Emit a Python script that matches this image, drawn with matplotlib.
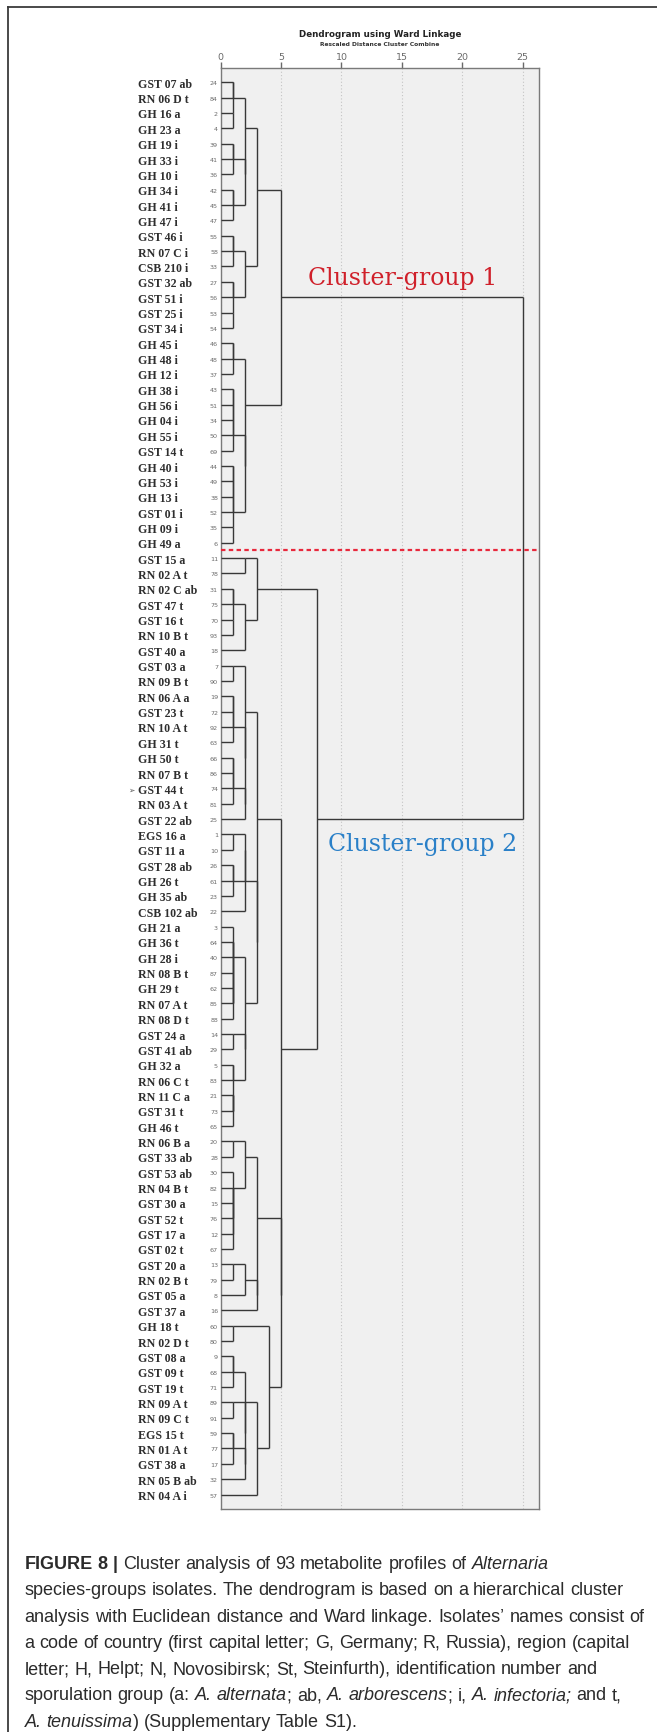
import math
import matplotlib
matplotlib.use('Agg')
import matplotlib.pyplot as plt
from matplotlib import transforms
from matplotlib.lines import Line2D

# ---------------- data ----------------
isolates = [
    "GST 07 ab", "RN 06 D t", "GH 16 a", "GH 23 a", "GH 19 i", "GH 33 i", "GH 10 i", "GH 34 i", "GH 41 i", "GH 47 i",
    "GST 46 i", "RN 07 C i", "CSB 210 i", "GST 32 ab", "GST 51 i", "GST 25 i", "GST 34 i", "GH 45 i", "GH 48 i", "GH 12 i",
    "GH 38 i", "GH 56 i", "GH 04 i", "GH 55 i", "GST 14 t", "GH 40 i", "GH 53 i", "GH 13 i", "GST 01 i", "GH 09 i", "GH 49 a",
    "GST 15 a", "RN 02 A t", "RN 02 C ab", "GST 47 t", "GST 16 t", "RN 10 B t", "GST 40 a", "GST 03 a", "RN 09 B t", "RN 06 A a",
    "GST 23 t", "RN 10 A t", "GH 31 t", "GH 50 t", "RN 07 B t", "GST 44 t", "RN 03 A t", "GST 22 ab", "EGS 16 a", "GST 11 a",
    "GST 28 ab", "GH 26 t", "GH 35 ab", "CSB 102 ab", "GH 21 a", "GH 36 t", "GH 28 i", "RN 08 B t", "GH 29 t", "RN 07 A t",
    "RN 08 D t", "GST 24 a", "GST 41 ab", "GH 32 a", "RN 06 C t", "RN 11 C a", "GST 31 t", "GH 46 t", "RN 06 B a", "GST 33 ab",
    "GST 53 ab", "RN 04 B t", "GST 30 a", "GST 52 t", "GST 17 a", "GST 02 t", "GST 20 a", "RN 02 B t", "GST 05 a", "GST 37 a",
    "GH 18 t", "RN 02 D t", "GST 08 a", "GST 09 t", "GST 19 t", "RN 09 A t", "RN 09 C t", "EGS 15 t", "RN 01 A t", "GST 38 a",
    "RN 05 B ab", "RN 04 A i",
]

case_ids = [
    24, 84, 2, 4, 39, 41, 36, 42, 45, 47, 55, 58, 33, 27, 56, 53, 54, 46, 48, 37,
    43, 51, 34, 50, 69, 44, 49, 38, 52, 35, 6,
    11, 78, 31, 75, 70, 93, 18, 7, 90, 19, 72, 92, 63, 66, 86, 74, 81, 25, 1, 10,
    26, 61, 23, 22, 3, 64, 40, 87, 62, 85, 88, 14, 29, 5, 83, 21, 73, 65, 20, 28,
    30, 82, 15, 76, 12, 67, 13, 79, 8, 16, 60, 80, 9, 68, 71, 89, 91, 59, 77, 17,
    32, 57,
]

marked_isolate = "GST 44 t"
n_cluster1 = 31

# Linkage tree: [rescaled distance, left, right]; leaves = 1-based position in isolates
c1_a = [1, [1, 1, 2], [1, 3, 4]]
c1_b = [1, [1, 5, 6], 7]
c1_c = [1, [1, 8, 9], 10]
c1_d = [1, [1, 11, 12], 13]
c1_e = [1, [1, 14, 15], [1, 16, 17]]
c1_f = [1, [1, 18, 19], 20]
c1_g = [1, [1, [1, [1, 21, 22], 23], 24], 25]
c1_h = [1, [1, [1, [1, 26, 27], 28], 29], [1, 30, 31]]
cluster1 = [5, [3, [2, c1_a, [2, c1_b, c1_c]], [2, c1_d, c1_e]],
            [2, c1_f, [2, c1_g, c1_h]]]

c2_p = [3, [2, 32, 33], [2, [1, [1, 34, 35], [1, 36, 37]], 38]]
c2_q1 = [2, [1, 39, 40], [2, [1, [1, [1, 41, 42], 43], 44],
                          [2, [1, [1, [1, 45, 46], 47], 48], 49]]]
c2_q2 = [2, [2, [1, 50, 51], [1, [1, 52, 53], 54]], 55]
c2_q3 = [2, [1, 56, [1, [1, [1, [1, [1, 57, 58], 59], 60], 61], 62]],
         [2, [1, 63, 64], [1, [1, 65, 66], [1, [1, 67, 68], 69]]]]
c2_q = [3, c2_q1, [3, c2_q2, c2_q3]]
c2_r = [3, [2, [1, 70, 71], [1, 72, [1, [1, [1, 73, 74], [1, 75, 76]], 77]]],
        [3, [2, [1, 78, 79], 80], 81]]
c2_s = [4, [1, 82, 83],
        [3, [2, [1, [1, 84, 85], 86], [2, [1, 87, 88], [2, [1, [1, 89, 90], 91], 92]]], 93]]
cluster2 = [8, c2_p, [5, c2_q, [5, c2_r, c2_s]]]

linkage_tree = [25, cluster1, cluster2]

x_ticks = [0, 5, 10, 15, 20, 25]
x_max = 26.33

title = "Dendrogram using Ward Linkage"
subtitle = "Rescaled Distance Cluster Combine"
group_labels = ["Cluster-group 1", "Cluster-group 2"]

caption_lines = [
    [("FIGURE 8 |", "b"), (" Cluster analysis of 93 metabolite profiles of ", "n"), ("Alternaria", "i")],
    [("species-groups isolates. The dendrogram is based on a hierarchical cluster", "n")],
    [("analysis with Euclidean distance and Ward linkage. Isolates\u2019 names consist of", "n")],
    [("a code of country (first capital letter; G, Germany; R, Russia), region (capital", "n")],
    [("letter; H, Helpt; N, Novosibirsk; St, Steinfurth), identification number and", "n")],
    [("sporulation group (a: ", "n"), ("A. alternata", "i"), ("; ab, ", "n"), ("A. arborescens", "i"),
     ("; i, ", "n"), ("A. infectoria;", "i"), (" and t,", "n")],
    [("A. tenuissima", "i"), (") (Supplementary Table S1).", "n")],
]

# ---------------- figure ----------------
W, H, DPI = 657, 1733, 100
fig = plt.figure(figsize=(W / DPI, H / DPI), dpi=DPI)
fig.patch.set_facecolor("white")


def fx(px):
    return px / W


def fy(py):
    return 1 - py / H


# outer frame (top + left)
fig.add_artist(Line2D([fx(8.3), 1.0], [fy(8.3), fy(8.3)], color="#3a3a3a", lw=1.3))
fig.add_artist(Line2D([fx(8.3), fx(8.3)], [fy(8.3), 0.0], color="#3a3a3a", lw=1.3))

ax_l, ax_r, ax_t, ax_b = 220.7, 538.7, 69.3, 1509.5
ax = fig.add_axes([fx(ax_l), fy(ax_b), (ax_r - ax_l) / W, (ax_b - ax_t) / H])
ax.set_facecolor("#f0f0f0")
n = len(isolates)
ax.set_xlim(0, x_max)
ax.set_ylim(n - 1 + 0.91, -0.91)
for s in ax.spines.values():
    s.set_color("#7a7a7a")
    s.set_linewidth(1.0)
ax.xaxis.tick_top()
ax.set_xticks(x_ticks)
ax.set_xticklabels([str(t) for t in x_ticks])
ax.tick_params(axis="x", direction="out", length=4, width=1.0, color="#6a6a6a",
               labelsize=6.8, labelcolor="#6a6a6a", pad=1.2, top=True, bottom=False,
               labeltop=True, labelbottom=False)
ax.set_yticks([])
ax.grid(axis="x", linestyle=(0, (1, 2)), color="#c4c4c4", lw=0.8)
ax.set_axisbelow(True)

LINE_KW = dict(color="#383838", lw=1.0, solid_capstyle="butt", zorder=3)


def draw(node):
    """returns (row, height) of the node, drawing its links"""
    if isinstance(node, int):
        return node - 1, 0.0
    h, left, right = node
    ya, ha = draw(left)
    yb, hb = draw(right)
    ax.plot([ha, h], [ya, ya], **LINE_KW)
    ax.plot([hb, h], [yb, yb], **LINE_KW)
    ax.plot([h, h], [ya, yb], **LINE_KW)
    return (ya + yb) // 2, h


draw(linkage_tree)

# separator between the two cluster groups
ax.plot([0, x_max], [n_cluster1 - 0.5, n_cluster1 - 0.5], color="#e8283c", lw=1.6,
        linestyle=(0, (2.0, 1.5)), zorder=4, clip_on=False)

# cluster-group labels
ax.text(7.23, 12.7, group_labels[0], color="#d0202a", fontsize=17, family="DejaVu Serif",
        ha="left", va="center", zorder=5)
ax.text(8.9, 49.6, group_labels[1], color="#2a80c8", fontsize=17, family="DejaVu Serif",
        ha="left", va="center", zorder=5)

# leaf labels and case numbers
tr = transforms.blended_transform_factory(fig.transFigure, ax.transData)
for i, (lab, cid) in enumerate(zip(isolates, case_ids)):
    fig.text(fx(138.3), i, lab, transform=tr, ha="left", va="center_baseline",
             fontsize=8.6, family="Liberation Serif", fontweight="bold", color="#2e2e2e")
    fig.text(fx(218.0), i, str(cid), transform=tr, ha="right", va="center_baseline",
             fontsize=4.6, family="DejaVu Sans", color="#6a6a6a")
    if lab == marked_isolate:
        fig.text(fx(131.7), i, "\u27a2", transform=tr, ha="center",
                 va="center_baseline", fontsize=5.5, family="DejaVu Sans", color="#555555")

# title
fig.text(fx((ax_l + ax_r) / 2), fy(34.5), title, ha="center", va="center", fontsize=6.3,
         fontweight="bold", family="DejaVu Sans", color="#222222")
fig.text(fx((ax_l + ax_r) / 2), fy(45.0), subtitle, ha="center", va="center", fontsize=4.3,
         fontweight="bold", family="DejaVu Sans", color="#333333")

# caption with mixed styles
renderer = fig.canvas.get_renderer()
CAP_FS = 13.0


def cap_kw(style):
    kw = dict(fontsize=CAP_FS, family="Liberation Sans", color="#2b2b2b")
    if style == "b":
        kw["fontweight"] = "bold"
    if style == "i":
        kw["fontstyle"] = "italic"
    return kw


def width_of(s, kw):
    t = fig.text(0, 0, s, **kw)
    w = t.get_window_extent(renderer).width
    t.remove()
    return w


ref_w = {st: width_of("xx", cap_kw(st)) for st in "nbi"}


def advance(word, st):
    return width_of("x" + word + "x", cap_kw(st)) - ref_w[st]


space_w = {st: advance(" ", st) for st in "nbi"}

y0, dy = 1569.0, 26.3
for li, segs in enumerate(caption_lines):
    x = 24.5
    yb = y0 + li * dy
    for text, st in segs:
        kw = cap_kw(st)
        words = text.split(" ")
        for wi, wd in enumerate(words):
            if wi > 0:
                x += space_w[st]
            if wd:
                fig.text(fx(x), fy(yb), wd, ha="left", va="baseline", **kw)
                x += advance(wd, st)

fig.savefig("out.png", dpi=DPI, facecolor="white")
